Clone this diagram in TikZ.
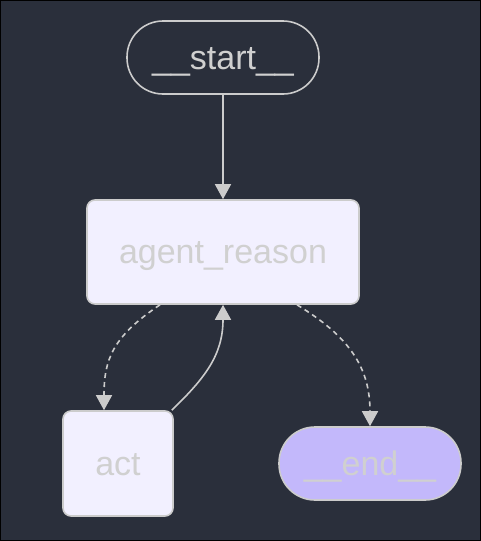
\documentclass[tikz,border=0pt]{standalone}
\usepackage{fontspec}
\setmainfont{Liberation Sans}
\usepackage{tikz}
\usetikzlibrary{arrows.meta, positioning, calc}
\definecolor{bgdark}{HTML}{2A2F3B}
\definecolor{edgegray}{HTML}{CCCCCC}
\definecolor{nodefill}{HTML}{F2F0FF}
\definecolor{endfill}{HTML}{C3B8FB}
\definecolor{labelgray}{HTML}{D0D0D0}

\begin{document}
\begin{tikzpicture}[x=1pt, y=-1pt,
    every node/.style={font=\fontsize{34}{40}\selectfont, text=labelgray, inner sep=0pt,
                       text height=30.8pt, text depth=7.2pt},
    graphnode/.style={draw=edgegray, line width=1.6pt, fill=nodefill, rounded corners=8pt},
    terminal/.style={draw=edgegray, line width=1.6pt, rounded corners=36pt},
    flow/.style={draw=edgegray, line width=1.6pt, -{Triangle[length=15pt, width=16pt]}},
    cond/.style={flow, dash pattern=on 5pt off 4pt}]
  % background and frame
  \fill[bgdark] (0,0) rectangle (481,541);
  \draw[black, line width=1pt] (0.5,0.5) rectangle (480.5,540.5);
  \useasboundingbox (0,0) rectangle (481,541);

  % nodes
  \node[terminal, fill=bgdark, minimum width=192pt, minimum height=73pt] (start) at (223,57.5) {\_\_start\_\_};
  \node[graphnode, minimum width=272pt, minimum height=104pt] (reason) at (223,252) {agent\_reason};
  \node[graphnode, minimum width=110pt, minimum height=105pt] (act) at (118,463.5) {act};
  \node[terminal, fill=endfill, minimum width=182pt, minimum height=73pt] (end) at (370,463.5) {\_\_end\_\_};

  % edges
  \draw[flow] (start) -- (reason);
  \draw[cond] ([xshift=-63pt]reason.south) .. controls (112,337) and (104,360) .. ([xshift=-14pt]act.north);
  \draw[flow] ([xshift=-2pt]act.north east) .. controls (205,378) and (223,355) .. (reason.south);
  \draw[cond] ([xshift=74pt]reason.south) .. controls (350,337) and (370,368) .. (end.north);
\end{tikzpicture}
\end{document}
